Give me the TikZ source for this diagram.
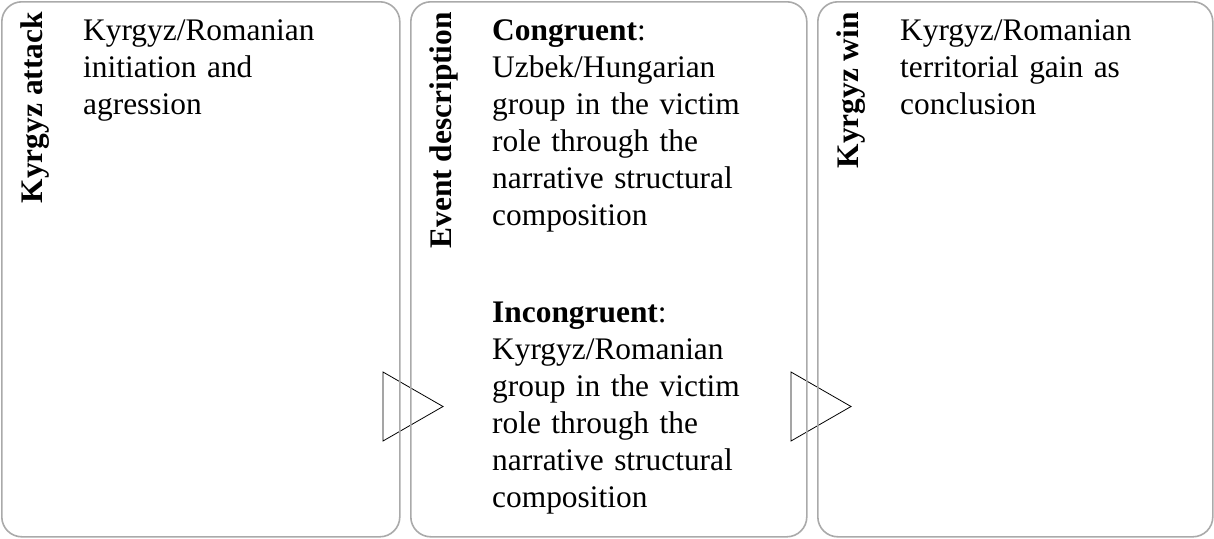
\documentclass[tikz,border=0pt]{standalone}
\usepackage{fontspec}
\setmainfont{Liberation Serif}
\definecolor{bordergray}{RGB}{170,170,170}
\begin{document}
\begin{tikzpicture}[x=1pt,y=-1pt,
  box/.style={draw=bordergray, line width=1.6pt, rounded corners=20pt,
    minimum width=#1, minimum height=535pt, anchor=north west, inner sep=0pt},
  vlabel/.style={rotate=90, anchor=base east, inner sep=0pt,
    font=\fontsize{31.4}{37}\selectfont\bfseries},
  body/.style={anchor=base west, text width=320pt, align=left, inner sep=0pt,
    font=\fontsize{31.4}{37}\selectfont},
  chevron/.style={draw=black, line width=0.8pt, line join=miter}]
\useasboundingbox (0,0) rectangle (1214,538);
% chevrons (behind the boxes)
\draw[chevron] (383,372) -- (443,406.5) -- (383,441) -- cycle;
\draw[chevron] (791,372) -- (851,406.5) -- (791,441) -- cycle;
% boxes
\node[box=398pt] (b1) at (1,1) {};
\node[box=396pt] (b2) at (410,1) {};
\node[box=395pt] (b3) at (817,1) {};
% vertical labels
\node[vlabel] (l1) at ([xshift=41pt, yshift=-11pt]b1.north west) {Kyrgyz attack};
\node[vlabel] (l2) at ([xshift=41pt, yshift=-11pt]b2.north west) {Event description};
\node[vlabel] (l3) at ([xshift=41pt, yshift=-11pt]b3.north west) {Kyrgyz win};
% body texts
\node[body] (t1) at ([xshift=82pt, yshift=-39pt]b1.north west)
  {Kyrgyz/Romanian\\initiation and\\agression};
\node[body] (t2a) at ([xshift=82pt, yshift=-39pt]b2.north west)
  {\textbf{Congruent}:\\Uzbek/Hungarian\\group in the victim\\role through the\\narrative structural\\composition};
\node[body] (t2b) at ([xshift=82pt, yshift=-321pt]b2.north west)
  {\textbf{Incongruent}:\\Kyrgyz/Romanian\\group in the victim\\role through the\\narrative structural\\composition};
\node[body] (t3) at ([xshift=83pt, yshift=-39pt]b3.north west)
  {Kyrgyz/Romanian\\territorial gain as\\conclusion};
\end{tikzpicture}
\end{document}
